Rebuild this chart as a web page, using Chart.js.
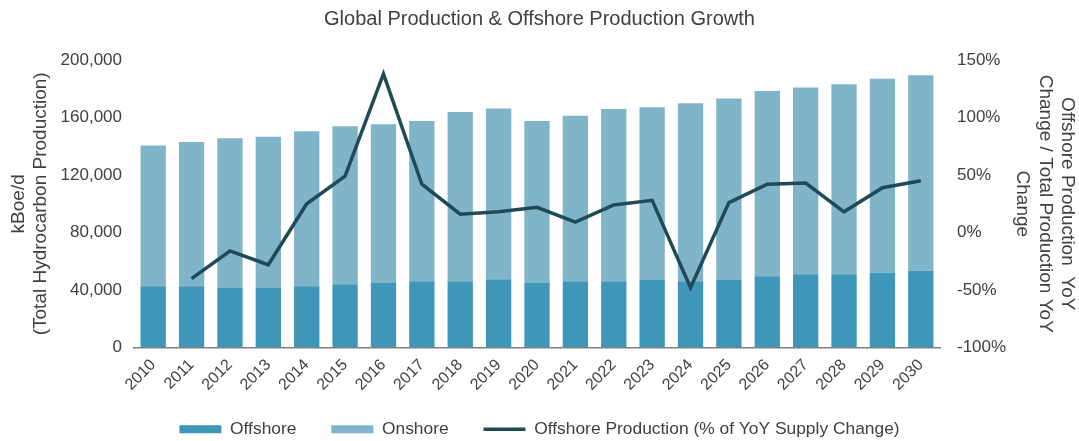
<!DOCTYPE html>
<html>
<head>
<meta charset="utf-8">
<script src="https://cdn.jsdelivr.net/npm/chart.js@4/dist/chart.umd.min.js"></script>
<style>
  html, body { margin: 0; padding: 0; background: #fff; }
  #wrap { width: 1079px; height: 441px; position: relative; }
</style>
</head>
<body>
<div id="wrap"><canvas id="prodChart"></canvas></div>
<script>
const years = ['2010', '2011', '2012', '2013', '2014', '2015', '2016', '2017', '2018', '2019', '2020',
    '2021', '2022', '2023', '2024', '2025', '2026', '2027', '2028', '2029', '2030'];
const offshore = [42700, 42700, 41500, 41500, 42700, 44000, 45000, 46100, 46100, 47500, 45000,
    46100, 46100, 47300, 46100, 47300, 49600, 51000, 51000, 52100, 53500];
const totals = [140500, 143000, 145500, 146700, 150400, 153900, 155300, 157600, 163800, 166300, 157600,
    161200, 166000, 167200, 170000, 173300, 178500, 180900, 183200, 186900, 189400];
const onshore = totals.map((t, i) => t - offshore[i]);
const offshoreShare = [null, -40, -16, -28, 25, 49, 138, 42, 16, 18, 22,
    9, 24, 28, -48, 26, 42, 43, 18, 39, 45];
const leftTicks = [0, 40000, 80000, 120000, 160000, 200000];
const rightTicks = [-100, -50, 0, 50, 100, 150];

Chart.defaults.font.family = '"Liberation Sans", Arial, sans-serif';
Chart.defaults.color = '#404040';

const ctx = document.getElementById('prodChart').getContext('2d');
new Chart(ctx, {
    type: 'bar',
    data: {
        labels: years,
        datasets: [
            {
                type: 'line',
                label: 'Offshore Production (% of YoY Supply Change)',
                data: offshoreShare,
                yAxisID: 'y1',
                borderColor: '#1f4b58',
                backgroundColor: '#1f4b58',
                borderWidth: 3.5,
                pointRadius: 0,
                pointStyle: 'line',
                tension: 0,
                order: 0
            },
            {
                label: 'Offshore',
                data: offshore,
                yAxisID: 'y',
                backgroundColor: '#3e97b8',
                pointStyle: 'rect',
                barPercentage: 0.66,
                categoryPercentage: 1,
                order: 1
            },
            {
                label: 'Onshore',
                data: onshore,
                yAxisID: 'y',
                backgroundColor: '#80b5c9',
                pointStyle: 'rect',
                barPercentage: 0.66,
                categoryPercentage: 1,
                order: 1
            }
        ]
    },
    options: {
        responsive: true,
        maintainAspectRatio: false,
        animation: false,
        layout: { padding: { top: 0, left: 0, right: 0, bottom: -7 } },
        scales: {
            x: {
                stacked: true,
                grid: { display: false },
                border: { display: true, color: '#7f7f7f', width: 1.5 },
                ticks: { maxRotation: 45, minRotation: 45, font: { size: 16 }, padding: 0 },
                afterFit: s => { s.height = 72; }
            },
            y: {
                stacked: true,
                position: 'left',
                min: 0,
                max: 200000,
                afterBuildTicks: axis => { axis.ticks = leftTicks.map(v => ({ value: v })); },
                afterFit: s => { s.width = 134; },
                grid: { display: false },
                border: { display: false },
                ticks: {
                    font: { size: 17 },
                    padding: 4,
                    callback: v => v.toLocaleString('en-US')
                },
                title: {
                    display: true,
                    text: ['kBoe/d', '(Total Hydrocarbon Production)'],
                    font: { size: 19 },
                    padding: { top: 7, bottom: 0 }
                }
            },
            y1: {
                position: 'right',
                min: -100,
                max: 150,
                afterBuildTicks: axis => { axis.ticks = rightTicks.map(v => ({ value: v })); },
                afterFit: s => { s.width = 139; },
                grid: { display: false },
                border: { display: false },
                ticks: {
                    font: { size: 17 },
                    padding: 9,
                    callback: v => v + '%'
                },
                title: {
                    display: true,
                    text: ['Offshore Production  YoY', 'Change / Total Production YoY', 'Change'],
                    font: { size: 19 },
                    padding: { top: 0, bottom: 0 }
                }
            }
        },
        plugins: {
            title: {
                display: true,
                text: 'Global Production & Offshore Production Growth',
                font: { size: 20, weight: 'normal' },
                padding: { top: 7, bottom: 29 }
            },
            legend: {
                position: 'bottom',
                labels: {
                    usePointStyle: true,
                    pointStyleWidth: 42,
                    boxHeight: 8,
                    font: { size: 17.4 },
                    padding: 1,
                    generateLabels: chart => {
                        const items = Chart.defaults.plugins.legend.labels.generateLabels(chart);
                        items.forEach(it => { if (it.datasetIndex !== 0) it.text = it.text + '       '; });
                        return items;
                    },
                    sort: (a, b) => a.datasetIndex === 0 ? 1 : (b.datasetIndex === 0 ? -1 : a.datasetIndex - b.datasetIndex)
                }
            },
            tooltip: { enabled: true }
        }
    }
});
</script>
</body>
</html>
